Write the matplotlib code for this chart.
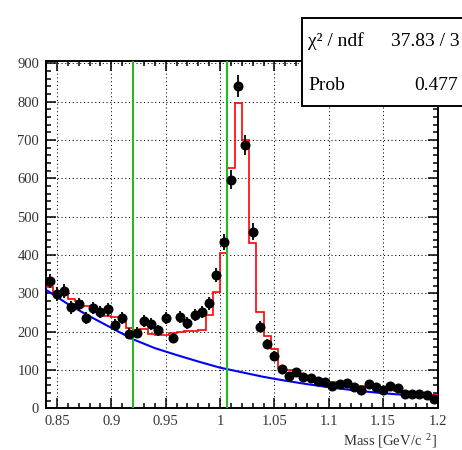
import numpy as np
import matplotlib
matplotlib.use("Agg")
import matplotlib.pyplot as plt
from matplotlib.patches import Rectangle
from matplotlib.ticker import MultipleLocator

plt.rcParams['font.family'] = ['Liberation Serif', 'DejaVu Serif']
plt.rcParams['mathtext.fontset'] = 'custom'
plt.rcParams['mathtext.rm'] = 'Liberation Serif'
plt.rcParams['mathtext.it'] = 'Liberation Serif:italic'

# Histogram binning: 54 bins over the mass window
x_min, x_max, n_bins = 0.84, 1.20, 54

# Observed counts per bin
counts = [332, 298, 306, 263, 271, 235, 261, 252, 258, 217,
          236, 195, 197, 228, 220, 204, 236, 184, 239, 223,
          243, 252, 274, 348, 435, 597, 841, 688, 461, 213,
          169, 137, 102, 83, 95, 82, 78, 71, 69, 59,
          63, 66, 56, 49, 63, 56, 49, 58, 52, 38,
          37, 36, 34, 25]

# Fitted total model (signal + background) per bin
model = [317, 304, 298, 286, 280, 268, 258, 250, 240, 237,
         232, 210, 205, 207, 193, 192, 192, 197, 198, 202,
         202, 203, 243, 304, 404, 626, 796, 700, 432, 250,
         188, 155, 105, 100, 98, 85, 80, 76, 72, 69,
         66, 63, 60, 58, 56, 52, 50, 48, 46, 43,
         41, 39, 37, 35]

# Background component sampled along the mass axis
bkg_mass = [0.84, 0.86, 0.88, 0.90, 0.92, 0.94, 0.96, 0.98, 1.00, 1.02,
            1.04, 1.06, 1.08, 1.10, 1.12, 1.14, 1.16, 1.18, 1.20]
bkg_val = [309, 272, 240, 210, 180, 157, 139, 122, 106, 94,
           82, 72, 63, 55, 48, 42, 37, 33, 29]

# Signal window boundaries
window = [0.920, 1.0063]

# Fit summary
chi2_text = "37.83 / 3"
prob_text = "0.477"

edges = np.linspace(x_min, x_max, n_bins + 1)
centers = 0.5 * (edges[:-1] + edges[1:])
counts_arr = np.array(counts, dtype=float)

fig = plt.figure(figsize=(4.62, 4.5), dpi=100)
ax = fig.add_axes([0.0998, 0.0927, 0.8472, 0.7724])

ax.set_xlim(x_min, x_max)
ax.set_ylim(0, 907)

# grid
ax.xaxis.set_major_locator(MultipleLocator(0.05))
ax.xaxis.set_minor_locator(MultipleLocator(0.01))
ax.yaxis.set_major_locator(MultipleLocator(100))
ax.yaxis.set_minor_locator(MultipleLocator(20))
ax.grid(True, which='major', color='black', linestyle=(0, (1, 2.6)), linewidth=0.75)
ax.set_axisbelow(True)

# background curve
ax.plot(bkg_mass, bkg_val, color='#0000ff', linewidth=1.5, zorder=3)
# total model as histogram
ax.stairs(model, edges, baseline=None, color='#ff0000', linewidth=1.2, zorder=4)
# window lines
for xv in window:
    ax.axvline(xv, color='#22bb22', linewidth=1.5, zorder=5)
# data points
ax.errorbar(centers, counts_arr, yerr=np.sqrt(counts_arr), fmt='o', color='black',
            markersize=6.2, elinewidth=1.3, capsize=0, zorder=6)

# ticks on all sides, pointing inward
ax.tick_params(which='both', direction='in', top=True, right=True, width=1.1, colors='black')
ax.tick_params(which='major', length=7.2, labelsize=10.5, pad=5)
ax.tick_params(which='minor', length=3.6)
ax.tick_params(axis='both', labelcolor='#333333')
for s in ax.spines.values():
    s.set_linewidth(1.4)

ax.set_xticks([0.85, 0.9, 0.95, 1.0, 1.05, 1.1, 1.15, 1.2])
ax.set_xticklabels(['0.85', '0.9', '0.95', '1', '1.05', '1.1', '1.15', '1.2'])
ax.set_yticks(range(0, 901, 100))
ax.set_yticklabels([str(v) for v in range(0, 901, 100)])

fig.text(437 / 462, 1 - 441.5 / 450, r"Mass [GeV/c$^{\ \ 2}$]", ha='right', va='center',
         fontsize=10.5, color='#333333')

# statistics box
box = Rectangle((302 / 462, 1 - 106 / 450), 0.5, (106 - 18) / 450, transform=fig.transFigure,
                facecolor='white', edgecolor='black', linewidth=1.4, zorder=10)
fig.add_artist(box)
fig.text(308 / 462, 1 - 41.5 / 450, "χ² / ndf", ha='left', va='center', fontsize=14, zorder=11)
fig.text(460 / 462, 1 - 41.5 / 450, chi2_text, ha='right', va='center', fontsize=14, zorder=11)
fig.text(308 / 462, 1 - 85 / 450, "Prob", ha='left', va='center', fontsize=14, zorder=11)
fig.text(458 / 462, 1 - 85 / 450, prob_text, ha='right', va='center', fontsize=14, zorder=11)

fig.savefig("out.png", dpi=100)
